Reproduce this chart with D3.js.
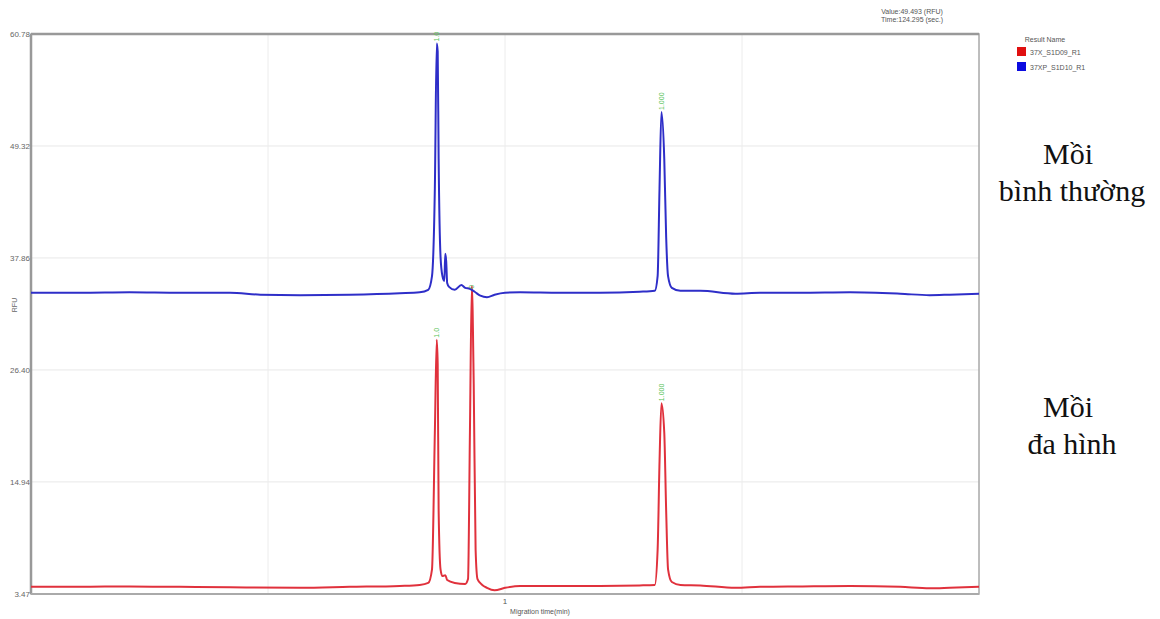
<!DOCTYPE html>
<html><head><meta charset="utf-8">
<script src="https://cdn.jsdelivr.net/npm/d3@7"></script>
<style>body{margin:0;background:#fff;} svg{display:block;}</style>
</head><body>
<svg id="c" width="1160" height="619"></svg>
<script>
// ---- data ----
const yTicks = [3.47, 14.94, 26.40, 37.86, 49.32, 60.78];
const xGrid = [0.75, 1.0, 1.25];
const xTickLabels = [1];
const seriesNames = ["37X_S1D09_R1", "37XP_S1D10_R1"];
const blueTime = [0.500,0.552,0.604,0.657,0.710,0.742,0.784,0.836,0.889,0.910,0.919,0.923,0.926,0.928,0.929,0.930,0.932,0.934,0.936,0.937,0.938,0.939,0.941,0.947,0.954,0.958,0.963,0.968,0.974,0.981,0.989,1.000,1.016,1.058,1.100,1.142,1.158,1.161,1.163,1.165,1.168,1.170,1.172,1.176,1.185,1.206,1.243,1.269,1.311,1.364,1.417,1.448,1.469,1.500];
const blueValue = [34.3,34.3,34.35,34.3,34.3,34.1,34.05,34.1,34.25,34.35,34.6,36.0,45.0,59.8,59.0,48.0,38.0,36.0,35.5,38.3,37.5,35.3,34.9,34.6,35.1,34.8,34.7,34.4,34.0,33.85,34.1,34.3,34.35,34.3,34.3,34.4,34.5,36.0,45.0,52.8,48.0,40.0,36.0,34.8,34.5,34.5,34.2,34.3,34.3,34.35,34.2,34.05,34.1,34.2];
const redTime = [0.500,0.552,0.604,0.657,0.710,0.784,0.836,0.889,0.910,0.919,0.923,0.926,0.928,0.929,0.930,0.932,0.934,0.937,0.939,0.947,0.958,0.961,0.963,0.965,0.967,0.969,0.971,0.976,0.981,0.989,1.000,1.016,1.058,1.100,1.142,1.158,1.161,1.163,1.165,1.168,1.170,1.172,1.176,1.185,1.206,1.243,1.269,1.311,1.364,1.417,1.448,1.469,1.500];
const redValue = [4.2,4.2,4.25,4.2,4.15,4.1,4.2,4.3,4.4,4.6,6.0,20.0,29.5,27.0,12.0,6.0,5.3,5.4,4.9,4.6,4.5,5.0,20.0,35.0,25.0,8.0,5.0,4.4,4.1,3.85,4.1,4.3,4.3,4.3,4.35,4.4,8.0,17.0,23.0,20.0,12.0,6.0,4.7,4.4,4.35,4.1,4.2,4.25,4.3,4.2,4.05,4.1,4.2];
const peakLabelsBlue = [{t:0.928, v:59.8, text:"1.0"},{t:0.965, v:34.5, text:"0"},{t:1.165, v:52.8, text:"1.000"}];
const peakLabelsRed = [{t:0.928, v:29.5, text:"1.0"},{t:1.165, v:23.0, text:"1.000"}];
const annotations = [{lines:["Mồi","bình thường"], y:164},{lines:["Mồi","đa hình"], y:417}];

// ---- layout ----
const svg = d3.select("#c");
const L = 31, R = 979, T = 34, B = 594;
const x = d3.scaleLinear().domain([0.5, 1.5]).range([L, R]);
const y = d3.scaleLinear().domain([3.47, 60.78]).range([B, T]);
const blueC = "#2e2ec8", redC = "#e0313c";

// gridlines
svg.append("g").selectAll("line").data(yTicks.slice(1,-1)).join("line")
  .attr("x1", L).attr("x2", R).attr("y1", d=>y(d)).attr("y2", d=>y(d))
  .attr("stroke", "#e8e8e8").attr("stroke-width", 1);
svg.append("g").selectAll("line").data(xGrid).join("line")
  .attr("x1", d=>x(d)).attr("x2", d=>x(d)).attr("y1", T).attr("y2", B)
  .attr("stroke", "#ececec").attr("stroke-width", 1);

// frame
svg.append("rect").attr("x", L).attr("y", T).attr("width", R-L).attr("height", B-T)
  .attr("fill", "none").attr("stroke", "#a8a8a8").attr("stroke-width", 1.5);
svg.append("line").attr("x1", L).attr("x2", R).attr("y1", T).attr("y2", T).attr("stroke", "#999").attr("stroke-width", 2.5);
svg.append("line").attr("x1", L).attr("x2", L).attr("y1", T).attr("y2", B).attr("stroke", "#999").attr("stroke-width", 2.5);
svg.append("line").attr("x1", L).attr("x2", R).attr("y1", B).attr("y2", B).attr("stroke", "#aaa").attr("stroke-width", 2);

// y ticks labels
svg.append("g").selectAll("text").data(yTicks).join("text")
  .attr("x", L-1).attr("y", d=>y(d)+3).attr("text-anchor", "end")
  .attr("font-family", "Arial, Liberation Sans, sans-serif").attr("font-size", 8).attr("fill", "#666")
  .text(d=>d.toFixed(2));
// x tick labels
svg.append("g").selectAll("text").data(xTickLabels).join("text")
  .attr("x", d=>x(d)).attr("y", 604).attr("text-anchor", "middle")
  .attr("font-family", "Arial, Liberation Sans, sans-serif").attr("font-size", 8).attr("fill", "#555")
  .text(d=>d);
svg.append("text").attr("x", 540).attr("y", 614).attr("text-anchor", "middle")
  .attr("font-family", "Arial, Liberation Sans, sans-serif").attr("font-size", 7).attr("fill", "#555")
  .text("Migration time(min)");
svg.append("text").attr("transform", "translate(17,305) rotate(-90)").attr("text-anchor", "middle")
  .attr("font-family", "Arial, Liberation Sans, sans-serif").attr("font-size", 7).attr("fill", "#666")
  .text("RFU");

// top info
svg.append("text").attr("x", 912).attr("y", 14).attr("text-anchor", "middle")
  .attr("font-family", "Arial, Liberation Sans, sans-serif").attr("font-size", 7).attr("fill", "#555").text("Value:49.493 (RFU)");
svg.append("text").attr("x", 912).attr("y", 22).attr("text-anchor", "middle")
  .attr("font-family", "Arial, Liberation Sans, sans-serif").attr("font-size", 7).attr("fill", "#555").text("Time:124.295 (sec.)");

// legend
svg.append("text").attr("x", 1045).attr("y", 42).attr("text-anchor", "middle")
  .attr("font-family", "Arial, Liberation Sans, sans-serif").attr("font-size", 7).attr("fill", "#555").text("Result Name");
const leg = svg.append("g").selectAll("g").data(seriesNames).join("g")
  .attr("transform", (d,i)=>`translate(1017,${47+i*15})`);
leg.append("rect").attr("width", 9).attr("height", 9).attr("fill", (d,i)=> i===0? "#e01010" : "#0b0be0");
leg.append("text").attr("x", 13).attr("y", 7.5).attr("font-family", "Arial, Liberation Sans, sans-serif")
  .attr("font-size", 7).attr("fill", "#555").text(d=>d);

// lines
const line = d3.line().x(d=>x(d[0])).y(d=>y(d[1])).curve(d3.curveMonotoneX);
const redPts = redTime.map((t,i)=>[t, redValue[i]]);
const bluePts = blueTime.map((t,i)=>[t, blueValue[i]]);
svg.append("path").attr("d", line(redPts)).attr("fill", "none").attr("stroke", redC).attr("stroke-width", 2);
svg.append("path").attr("d", line(bluePts)).attr("fill", "none").attr("stroke", blueC).attr("stroke-width", 2);

// peak labels
function peakLabels(data){
  svg.append("g").selectAll("text").data(data).join("text")
    .attr("transform", d=>`translate(${x(d.t)+2.5},${y(d.v)-2}) rotate(-90)`)
    .attr("font-family", "Arial, Liberation Sans, sans-serif").attr("font-size", 7).attr("fill", "#55c255")
    .text(d=>d.text);
}
peakLabels(peakLabelsBlue);
peakLabels(peakLabelsRed);

// annotations
annotations.forEach(a=>{
  a.lines.forEach((s,i)=>{
    svg.append("text").attr("x", i===0 ? 1068 : 1072).attr("y", a.y + i*37).attr("text-anchor", "middle")
      .attr("font-family", "Liberation Serif, Times New Roman, serif").attr("font-size", 30).attr("fill", "#111")
      .text(s);
  });
});
</script>
</body></html>
